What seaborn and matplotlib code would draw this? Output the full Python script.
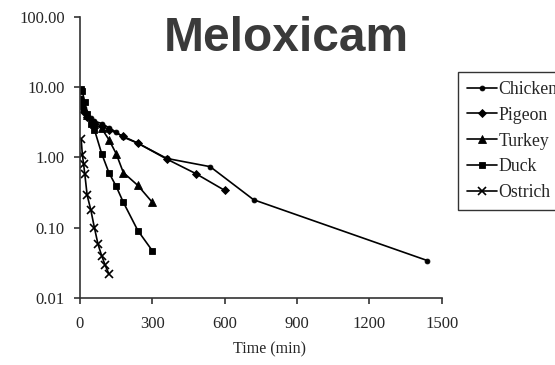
import seaborn as sns
import matplotlib.pyplot as plt
import pandas as pd
from matplotlib.ticker import FixedLocator, FuncFormatter

sns.set_style("white")
plt.rcParams['font.family'] = ['Liberation Serif', 'DejaVu Serif']

species = ["Chicken", "Pigeon", "Turkey", "Duck", "Ostrich"]

chicken_t = [5, 10, 15, 30, 45, 60, 90, 120, 150, 180, 240, 360, 540, 720, 1440]
chicken_c = [7.0, 5.6, 5.0, 4.0, 3.6, 3.3, 3.05, 2.65, 2.3, 1.95, 1.6, 0.97, 0.74, 0.25, 0.034]
pigeon_t = [5, 15, 30, 60, 90, 120, 180, 240, 360, 480, 600]
pigeon_c = [5.5, 4.5, 3.8, 3.1, 2.8, 2.5, 2.0, 1.6, 0.95, 0.59, 0.34]
turkey_t = [5, 15, 30, 60, 90, 120, 150, 180, 240, 300]
turkey_c = [6.5, 5.0, 4.0, 3.0, 2.6, 1.8, 1.14, 0.61, 0.40, 0.23]
duck_t = [5, 10, 20, 30, 45, 60, 90, 120, 150, 180, 240, 300]
duck_c = [9.5, 8.8, 6.1, 4.2, 3.0, 2.5, 1.14, 0.61, 0.39, 0.23, 0.091, 0.047]
ostrich_t = [5, 10, 15, 20, 30, 45, 60, 75, 90, 105, 120]
ostrich_c = [1.86, 1.10, 0.82, 0.59, 0.29, 0.18, 0.10, 0.058, 0.040, 0.029, 0.022]

times = [chicken_t, pigeon_t, turkey_t, duck_t, ostrich_t]
concs = [chicken_c, pigeon_c, turkey_c, duck_c, ostrich_c]
rows = []
for name, ts, cs in zip(species, times, concs):
    for t, c in zip(ts, cs):
        rows.append({"species": name, "time": t, "conc": c})
df = pd.DataFrame(rows)

markers = {"Chicken": "o", "Pigeon": "D", "Turkey": "^", "Duck": "s", "Ostrich": "x"}
sizes = {"Chicken": 3.5, "Pigeon": 4.5, "Turkey": 5.5, "Duck": 4.5, "Ostrich": 6}

fig = plt.figure(figsize=(5.55, 3.65), dpi=100)
ax = fig.add_axes([0.144, 0.184, 0.652, 0.769])
for name in species:
    sns.lineplot(data=df[df.species == name], x="time", y="conc", ax=ax,
                 color="black", marker=markers[name], markersize=sizes[name],
                 markeredgecolor="black", markeredgewidth=1.2 if name == "Ostrich" else 0.6,
                 linewidth=1.2, label=name, legend=False)

ax.set_yscale("log")
ax.set_ylim(0.01, 100)
ax.set_xlim(0, 1500)
ax.xaxis.set_major_locator(FixedLocator([0, 300, 600, 900, 1200, 1500]))
ax.yaxis.set_major_locator(FixedLocator([0.01, 0.1, 1, 10, 100]))
ax.yaxis.set_minor_locator(FixedLocator([]))
ax.yaxis.set_major_formatter(FuncFormatter(lambda v, p: f"{v:.2f}"))
sns.despine(ax=ax)
for s in ["left", "bottom"]:
    ax.spines[s].set_color("#333333")
    ax.spines[s].set_linewidth(1.2)
ax.tick_params(axis="both", direction="out", length=4, width=1.2, color="#333333",
               labelsize=12, left=True, bottom=True)
ax.tick_params(axis="y", pad=7)
ax.tick_params(axis="x", pad=9)
ax.set_xlabel("Time (min)", fontsize=11.5, labelpad=13)
ax.xaxis.set_label_coords(0.525, -0.155)
ax.set_ylabel("")

handles = ax.get_lines()[:5]
leg = fig.legend(handles=handles, labels=species, loc="upper left",
                 bbox_to_anchor=(0.825, 0.803), fontsize=12.8, frameon=True,
                 fancybox=False, edgecolor="black", handlelength=1.72,
                 handletextpad=0.05, borderpad=0.5, labelspacing=0.5, borderaxespad=0)
leg.get_frame().set_linewidth(1.0)

fig.text(0.515, 0.895, "Meloxicam", fontsize=34.5, fontweight="bold",
         family="Liberation Sans", color="#3a3a3a", ha="center", va="center")

fig.savefig("out.png", dpi=100)
